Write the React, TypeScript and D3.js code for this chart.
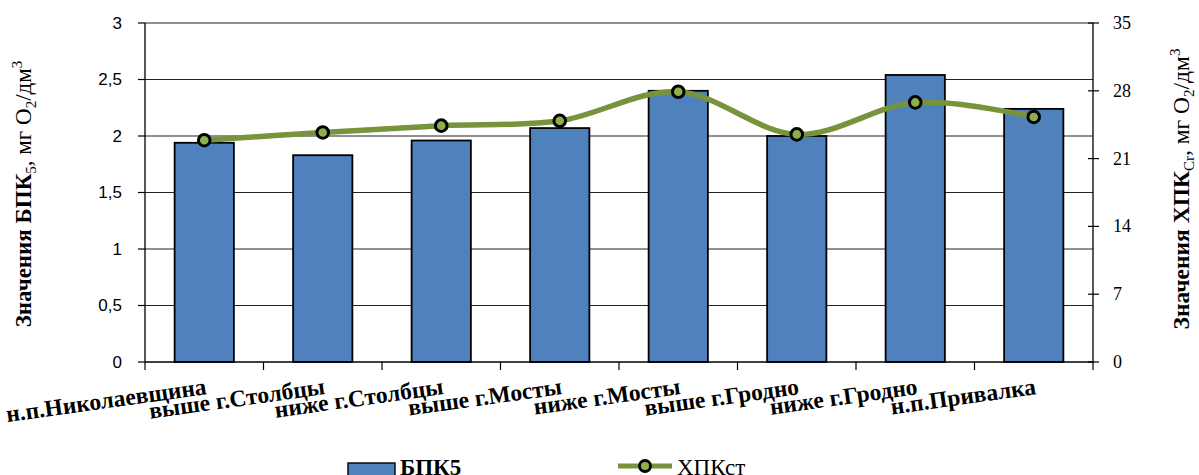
import React from "react";
import * as d3 from "d3";

const categories = [
  "н.п.Николаевщина",
  "выше г.Столбцы",
  "ниже г.Столбцы",
  "выше г.Мосты",
  "ниже г.Мосты",
  "выше г.Гродно",
  "ниже г.Гродно",
  "н.п.Привалка",
];
const bpkValues = [1.94, 1.83, 1.96, 2.07, 2.4, 2.0, 2.54, 2.24];
const hpkValues = [22.9, 23.7, 24.4, 24.9, 27.9, 23.5, 26.8, 25.3];
const leftTicks = [0, 0.5, 1, 1.5, 2, 2.5, 3];
const rightTicks = [0, 7, 14, 21, 28, 35];
const legendBar = "БПК5";
const legendLine = "ХПКст";

const W = 1199;
const H = 475;
const L = 145;
const R = 1093;
const T = 23;
const B = 362;

const serif = "'Liberation Serif', 'Times New Roman', serif";
const sans = "'Liberation Sans', Arial, sans-serif";

export default function App() {
  const x = d3
    .scaleBand<string>()
    .domain(categories)
    .range([L, R])
    .paddingInner(0.5)
    .paddingOuter(0.25);
  const step = x.step();
  const yL = d3.scaleLinear().domain([0, 3]).range([B, T]);
  const yR = d3.scaleLinear().domain([0, 35]).range([B, T]);
  const cx = (c: string) => (x(c) as number) + x.bandwidth() / 2;

  const line = d3
    .line<number>()
    .x((_, i) => cx(categories[i]))
    .y((d) => yR(d))
    .curve(d3.curveCardinal.tension(0));

  const boundaries = d3.range(categories.length + 1).map((i) => L + i * step);

  return (
    <svg
      width={W}
      height={H}
      style={{ position: "absolute", left: 0, top: 0 }}
      xmlns="http://www.w3.org/2000/svg"
    >
      <rect width={W} height={H} fill="#fff" />
      {leftTicks
        .filter((t) => t > 0)
        .map((t) => (
          <line key={"g" + t} x1={L} x2={R} y1={yL(t)} y2={yL(t)} stroke="#222" strokeWidth={1} />
        ))}
      {categories.map((c, i) => (
        <rect
          key={"b" + i}
          x={x(c)}
          y={yL(bpkValues[i])}
          width={x.bandwidth()}
          height={B - yL(bpkValues[i])}
          fill="#4F81BD"
          stroke="#000"
          strokeWidth={1.8}
        />
      ))}
      <line x1={L} x2={L} y1={T} y2={B} stroke="#000" strokeWidth={1.3} />
      <line x1={R} x2={R} y1={T} y2={B} stroke="#000" strokeWidth={1.3} />
      <line x1={L} x2={R} y1={B} y2={B} stroke="#000" strokeWidth={1.3} />
      {leftTicks.map((t) => (
        <g key={"lt" + t}>
          <line x1={L - 7} x2={L} y1={yL(t)} y2={yL(t)} stroke="#000" strokeWidth={1.2} />
          <text
            x={L - 23}
            y={yL(t)}
            textAnchor="end"
            dominantBaseline="central"
            fontFamily={sans}
            fontSize={17}
            fill="#000"
          >
            {String(t).replace(".", ",")}
          </text>
        </g>
      ))}
      {rightTicks.map((t) => (
        <g key={"rt" + t}>
          <line x1={R - 5} x2={R + 6} y1={yR(t)} y2={yR(t)} stroke="#000" strokeWidth={1.2} />
          <text
            x={R + 20}
            y={yR(t)}
            textAnchor="start"
            dominantBaseline="central"
            fontFamily={serif}
            fontSize={18}
            fill="#000"
          >
            {t}
          </text>
        </g>
      ))}
      {boundaries.map((bx, i) => (
        <line key={"xt" + i} x1={bx} x2={bx} y1={B} y2={B + 8} stroke="#000" strokeWidth={1.2} />
      ))}
      {categories.map((c) => (
        <text
          key={"xl" + c}
          transform={`translate(${cx(c) + 3},${B + 32}) rotate(-8)`}
          textAnchor="end"
          fontFamily={serif}
          fontWeight="bold"
          fontSize={23.5}
          fill="#000"
        >
          {c}
        </text>
      ))}
      <path d={line(hpkValues) || ""} fill="none" stroke="#77933C" strokeWidth={5.5} />
      {hpkValues.map((v, i) => (
        <circle
          key={"p" + i}
          cx={cx(categories[i])}
          cy={yR(v)}
          r={5.8}
          fill="#8DB04A"
          stroke="#000"
          strokeWidth={3}
        />
      ))}
      <text
        transform={`translate(31,194) rotate(-90)`}
        textAnchor="middle"
        fontFamily={serif}
        fontSize={23}
        fill="#000"
      >
        <tspan fontWeight="bold">Значения БПК</tspan>
        <tspan fontSize={15} dy={5}>5</tspan>
        <tspan dy={-5}>, мг O</tspan>
        <tspan fontSize={15} dy={5}>2</tspan>
        <tspan dy={-5}>/дм</tspan>
        <tspan fontSize={15} dy={-9}>3</tspan>
      </text>
      <text
        transform={`translate(1189,189) rotate(-90)`}
        textAnchor="middle"
        fontFamily={serif}
        fontSize={23.5}
        fill="#000"
      >
        <tspan fontWeight="bold">Значения ХПК</tspan>
        <tspan fontSize={15} dy={5}>Cr</tspan>
        <tspan dy={-5}>, мг O</tspan>
        <tspan fontSize={15} dy={5}>2</tspan>
        <tspan dy={-5}>/дм</tspan>
        <tspan fontSize={15} dy={-9}>3</tspan>
      </text>
      <rect x={348} y={463} width={47} height={14} fill="#4F81BD" stroke="#000" strokeWidth={1.4} />
      <text x={400} y={475} fontFamily={serif} fontWeight="bold" fontSize={23} fill="#000">
        {legendBar}
      </text>
      <line x1={618} x2={672} y1={466} y2={466} stroke="#77933C" strokeWidth={5} />
      <circle cx={645} cy={466} r={5.5} fill="#8DB04A" stroke="#000" strokeWidth={2.8} />
      <text x={677} y={475} fontFamily={serif} fontSize={23} fill="#000">
        {legendLine}
      </text>
    </svg>
  );
}
